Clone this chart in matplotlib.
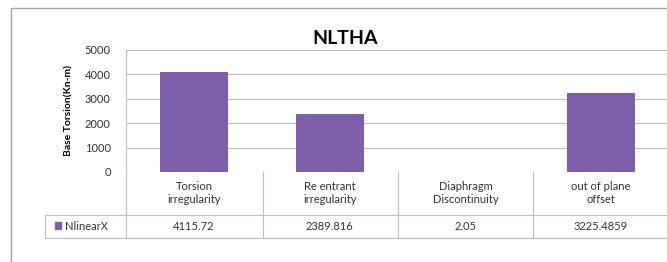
import matplotlib.pyplot as plt
import matplotlib.transforms as mtransforms
from matplotlib.patches import Rectangle
from matplotlib.lines import Line2D

plt.rcParams['font.family'] = ['Lato', 'DejaVu Sans']

categories = ['Torsion\nirregularity', 'Re entrant\nirregularity',
              'Diaphragm\nDiscontinuity', 'out of plane\noffset']
values = [4115.72, 2389.816, 2.05, 3225.4859]
value_labels = ['4115.72', '2389.816', '2.05', '3225.4859']
series_name = 'NlinearX'
yticks = [0, 1000, 2000, 3000, 4000, 5000]

W, H = 667, 262
fig = plt.figure(figsize=(W / 100, H / 100), dpi=100)

# plot area in pixel coordinates
left, right, top, bottom = 126, 669, 50, 172
ax = fig.add_axes([left / W, 1 - bottom / H, (right - left) / W, (bottom - top) / H])
ax.set_xlim(-0.5, len(categories) - 0.5)
ax.set_ylim(0, 5000)

bar_color = '#7d5ea8'
ax.bar(range(len(values)), values, width=0.5, color=bar_color, zorder=3)

ax.set_yticks(yticks)
ax.set_yticklabels([str(t) for t in yticks], fontsize=8, color='#333333')
ax.tick_params(axis='y', length=0, pad=11)
ax.set_xticks([])
ax.yaxis.grid(True, color='#bfbfbf', linewidth=0.8, zorder=0)
for s in ['top', 'right', 'bottom']:
    ax.spines[s].set_visible(False)
ax.spines['left'].set_color('#bfbfbf')
ax.set_ylabel('Base Torsion(Kn-m)', fontsize=7.5, fontweight='bold', labelpad=8)

fig.text(345 / W, 1 - 38 / H, 'NLTHA', fontsize=14, fontweight='bold',
         ha='center', va='center')

# data table underneath
def px(x, y):
    return x / W, 1 - y / H

grid_c = '#bfbfbf'
row1, row2 = 215, 238
bounds = [126, 263, 398, 533, 669]
for x in bounds:
    fig.add_artist(Line2D([x / W, x / W], [1 - bottom / H, 1 - row2 / H],
                          color=grid_c, linewidth=0.8))
for y in [row1, row2]:
    fig.add_artist(Line2D([45 / W, 669 / W], [1 - y / H, 1 - y / H],
                          color=grid_c, linewidth=0.8))
fig.add_artist(Line2D([45 / W, 45 / W], [1 - row1 / H, 1 - row2 / H],
                      color=grid_c, linewidth=0.8))

trans = mtransforms.blended_transform_factory(ax.transData, fig.transFigure)
for i, (cat, lab) in enumerate(zip(categories, value_labels)):
    ax.text(i, 1 - 193 / H, cat, transform=trans, ha='center', va='center',
            fontsize=8, color='#333333', linespacing=1.3, clip_on=False)
    ax.text(i, 1 - 227 / H, lab, transform=trans, ha='center', va='center',
            fontsize=8, color='#333333', clip_on=False)

fig.add_artist(Rectangle(px(55, 229), 6 / W, 7 / H, color=bar_color))
fig.text(65 / W, 1 - 227 / H, series_name, fontsize=8, color='#333333',
         ha='left', va='center')

# outer chart frame (right and bottom edges fall outside the picture)
fig.add_artist(Rectangle(px(11, 270), (W + 10) / W, 262 / H, fill=False,
                         edgecolor='#a6a6a6', linewidth=1.0))

plt.savefig('out.png', dpi=100)
plt.close()
